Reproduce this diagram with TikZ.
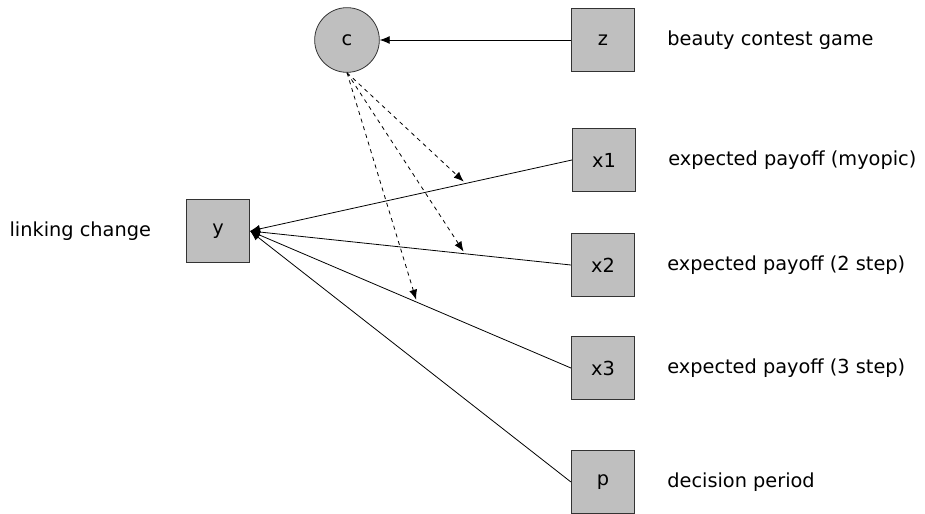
\documentclass[tikz,border=0pt]{standalone}
\usepackage{fontspec}
\setmainfont{DejaVu Sans}
\usetikzlibrary{arrows.meta,positioning}

\begin{document}
\begin{tikzpicture}[
  x=0.75pt, y=-0.75pt,
  node distance=24pt,
  font=\fontsize{14.5}{17}\selectfont,
  var/.style={
    draw=black!80, fill=black!25, minimum size=47.5pt, inner sep=0pt,
    line width=0.6pt},
  latent/.style={
    circle, draw=black!80, fill=black!25, minimum size=48.5pt,
    inner sep=0pt, line width=0.6pt},
  lbl/.style={inner sep=0pt},
  arr/.style={-{Latex[length=7.5pt,width=6pt]}, line width=0.6pt},
  effarr/.style={arr, dashed, shorten >=2pt}
]
\useasboundingbox (0,0) rectangle (925,514);

\node[latent] (c) at (347,40) {c};
\node[var] (z)  at (603,40)  {z};
\node[var] (x1) at (604,160) {x1};
\node[var] (x2) at (603,265) {x2};
\node[var] (x3) at (603,368) {x3};
\node[var] (p)  at (603,482) {p};
\node[var] (y)  at (218,231) {y};

\node[lbl, right=of z]  (lz)  {beauty contest game};
\node[lbl, right=of x1] (lx1) {expected payoff (myopic)};
\node[lbl, right=of x2] (lx2) {expected payoff (2 step)};
\node[lbl, right=of x3] (lx3) {expected payoff (3 step)};
\node[lbl, right=of p]  (lp)  {decision period};
\node[lbl, left=26pt of y] (ly) {linking change};

\draw[arr] (z) -- (c);
\draw[arr] (x1.west) -- coordinate[pos=0.33] (m1) (y.east);
\draw[arr] (x2.west) -- coordinate[pos=0.33] (m2) (y.east);
\draw[arr] (x3.west) -- coordinate[pos=0.48] (m3) (y.east);
\draw[arr] (p.west) -- (y.east);

\foreach \m in {m1, m2, m3}
  \draw[effarr] (c.south) -- (\m);

\end{tikzpicture}
\end{document}
